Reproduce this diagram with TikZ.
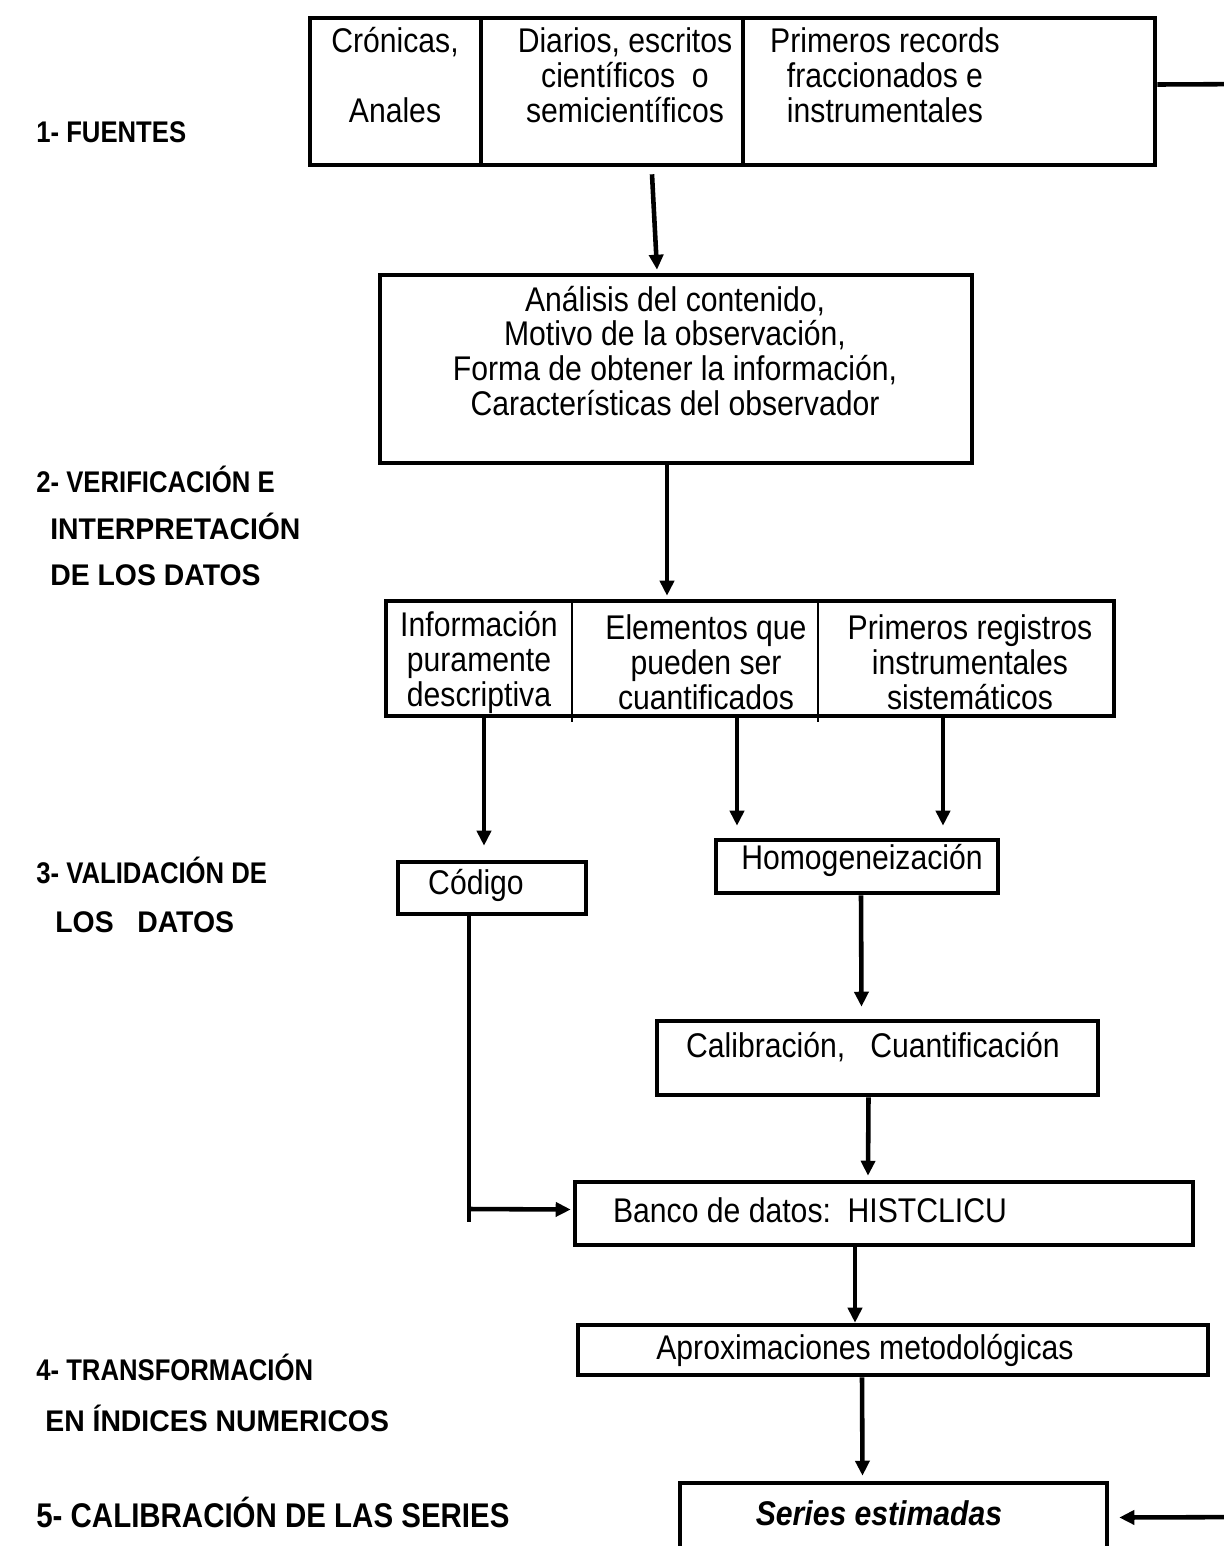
\documentclass[tikz,border=0pt]{standalone}
\usepackage{fontspec}
\setmainfont{Liberation Sans}
\newfontfamily\cajafont[FakeStretch=0.88]{Liberation Sans}
\newfontfamily\etapafont[FakeStretch=0.86]{Liberation Sans}
\newfontfamily\etapaanchafont[FakeStretch=0.95]{Liberation Sans}
\usetikzlibrary{arrows.meta,calc,fit}
\tikzset{
	caja/.style={draw, line width=2.6pt, inner sep=0pt},
	texto/.style={align=center, inner sep=0pt, font=\cajafont\fontsize{19.5}{19.9}\selectfont},
	etapa/.style={anchor=west, inner sep=0pt, font=\etapafont\fontsize{17}{19}\selectfont\bfseries},
	etapa2/.style={anchor=west, inner sep=0pt, font=\etapaanchafont\fontsize{17}{19}\selectfont\bfseries},
	flecha/.style={line width=2.6pt, -{Triangle[length=0.3cm, width=0.28cm]}},
	linea/.style={line width=2.6pt},
	divisor/.style={line width=1.3pt}
}
\begin{document}
\begin{tikzpicture}[x=0.02cm, y=-0.02cm]
			\useasboundingbox (0,0) rectangle (1224,1546);
			\node[caja, fit={(310,18) (481,165)}] (cronicas) {};
			\node[caja, fit={(481,18) (743,165)}] (diarios) {};
			\node[caja, fit={(743,18) (1155,165)}] (primeros) {};
			\node[caja, fit={(380,275) (972,463)}] (analisis) {};
			\node[caja, fit={(386,601) (1114,716)}] (datos) {};
			\node[caja, fit={(398,862) (586,914)}] (codigo) {};
			\node[caja, fit={(716,840) (998,893)}] (homog) {};
			\node[caja, fit={(657,1021) (1098,1095)}] (calibracion) {};
			\node[caja, fit={(575,1182) (1193,1245)}] (banco) {};
			\node[caja, fit={(578,1325) (1208,1375)}] (aprox) {};
			\node[caja, fit={(680,1483) (1107,1552)}] (series) {};
			\draw[divisor] (572,601) -- (572,722);
			\draw[divisor] (818,601) -- (818,722);
			\node[texto] (t-cronicas) at (395,75) {Crónicas,\\[19.9pt]Anales};
			\node[texto] (t-diarios) at (625,75) {Diarios, escritos\\científicos\ \ o\\semicientíficos};
			\node[texto] (t-primeros) at (885,75) {Primeros records\\fraccionados e\\instrumentales};
			\node[texto] (t-analisis) at (675,351) {Análisis del contenido,\\Motivo de la observación,\\Forma de obtener la información,\\Características del observador};
			\node[texto] (t-informacion) at (479,662) {Información\\puramente\\descriptiva};
			\node[texto] (t-elementos) at (706,662) {Elementos que\\pueden ser\\cuantificados};
			\node[texto] (t-registros) at (970,662) {Primeros registros\\instrumentales\\sistemáticos};
			\node[texto] (t-codigo) at (476,885) {Código};
			\node[texto] (t-homog) at (862,860) {Homogeneización};
			\node[texto] (t-calibracion) at (873,1047) {Calibración,\ \ \ Cuantificación};
			\node[texto] (t-banco) at (810,1210) {Banco de datos:\ \ HISTCLICU};
			\node[texto] (t-aprox) at (865,1350) {Aproximaciones metodológicas};
			\node[texto, font=\cajafont\fontsize{19.5}{20}\selectfont\bfseries\itshape] (t-series) at (879,1513) {Series estimadas};
			\node[etapa] (e-fuentes) at (36,132) {1- FUENTES};
			\node[etapa] (e-verificacion) at (36,479) {2- VERIFICACIÓN E};
			\node[etapa2] (e-interpretacion) at (50,526) {INTERPRETACIÓN};
			\node[etapa2] (e-datos1) at (50,575) {DE LOS DATOS};
			\node[etapa] (e-validacion) at (36,870) {3- VALIDACIÓN DE};
			\node[etapa2] (e-datos2) at (55,922) {LOS\ \ \ DATOS};
			\node[etapa] (e-transformacion) at (36,1367) {4- TRANSFORMACIÓN};
			\node[etapa2] (e-indices) at (45,1418) {EN ÍNDICES NUMERICOS};
			\node[etapa, font=\etapafont\fontsize{19.5}{20}\selectfont\bfseries] (e-calibracion) at (36,1512) {5- CALIBRACIÓN DE LAS SERIES};
			\coordinate (codigo-pie) at (469,1222);
			\coordinate (vuelta-arriba) at (1260,84);
			\coordinate (vuelta-abajo) at (1260,1517);
			\draw[flecha] ($(diarios.south)+(40,7)$) -- ($(analisis.north)+(-19,-3)$);
			\draw[flecha] ($(analisis.south)+(-9,0)$) -- ($(datos.north)+(-83,-3)$);
			\draw[flecha] ($(datos.south)+(-266,0)$) -- ($(codigo.north)+(-8,-14)$);
			\draw[flecha] ($(datos.south)+(-13,0)$) -- ($(homog.north)+(-120,-12)$);
			\draw[flecha] ($(datos.south)+(193,0)$) -- ($(homog.north)+(86,-12)$);
			\draw[flecha] ($(homog.south)+(4,0)$) -- ($(calibracion.north)+(-16,-12)$);
			\draw[flecha] ($(calibracion.south)+(-9,0)$) -- ($(banco.north)+(-16,-4)$);
			\draw[flecha] ($(banco.south)+(-29,0)$) -- ($(aprox.north)+(-38,0)$);
			\draw[flecha] ($(aprox.south)+(-31,0)$) -- ($(series.north)+(-31,-5)$);
			\draw[linea] (codigo.south -| codigo-pie) -- (codigo-pie);
			\draw[flecha] ($(codigo-pie)+(0,-13)$) -- ($(banco.west)+(-2,-4)$);
			\draw[linea] ($(primeros.east)+(0,-7)$) -- (vuelta-arriba) -- (vuelta-abajo);
			\draw[flecha] (vuelta-abajo) -- ($(series.east)+(10,0)$);
		\end{tikzpicture}
\end{document}
